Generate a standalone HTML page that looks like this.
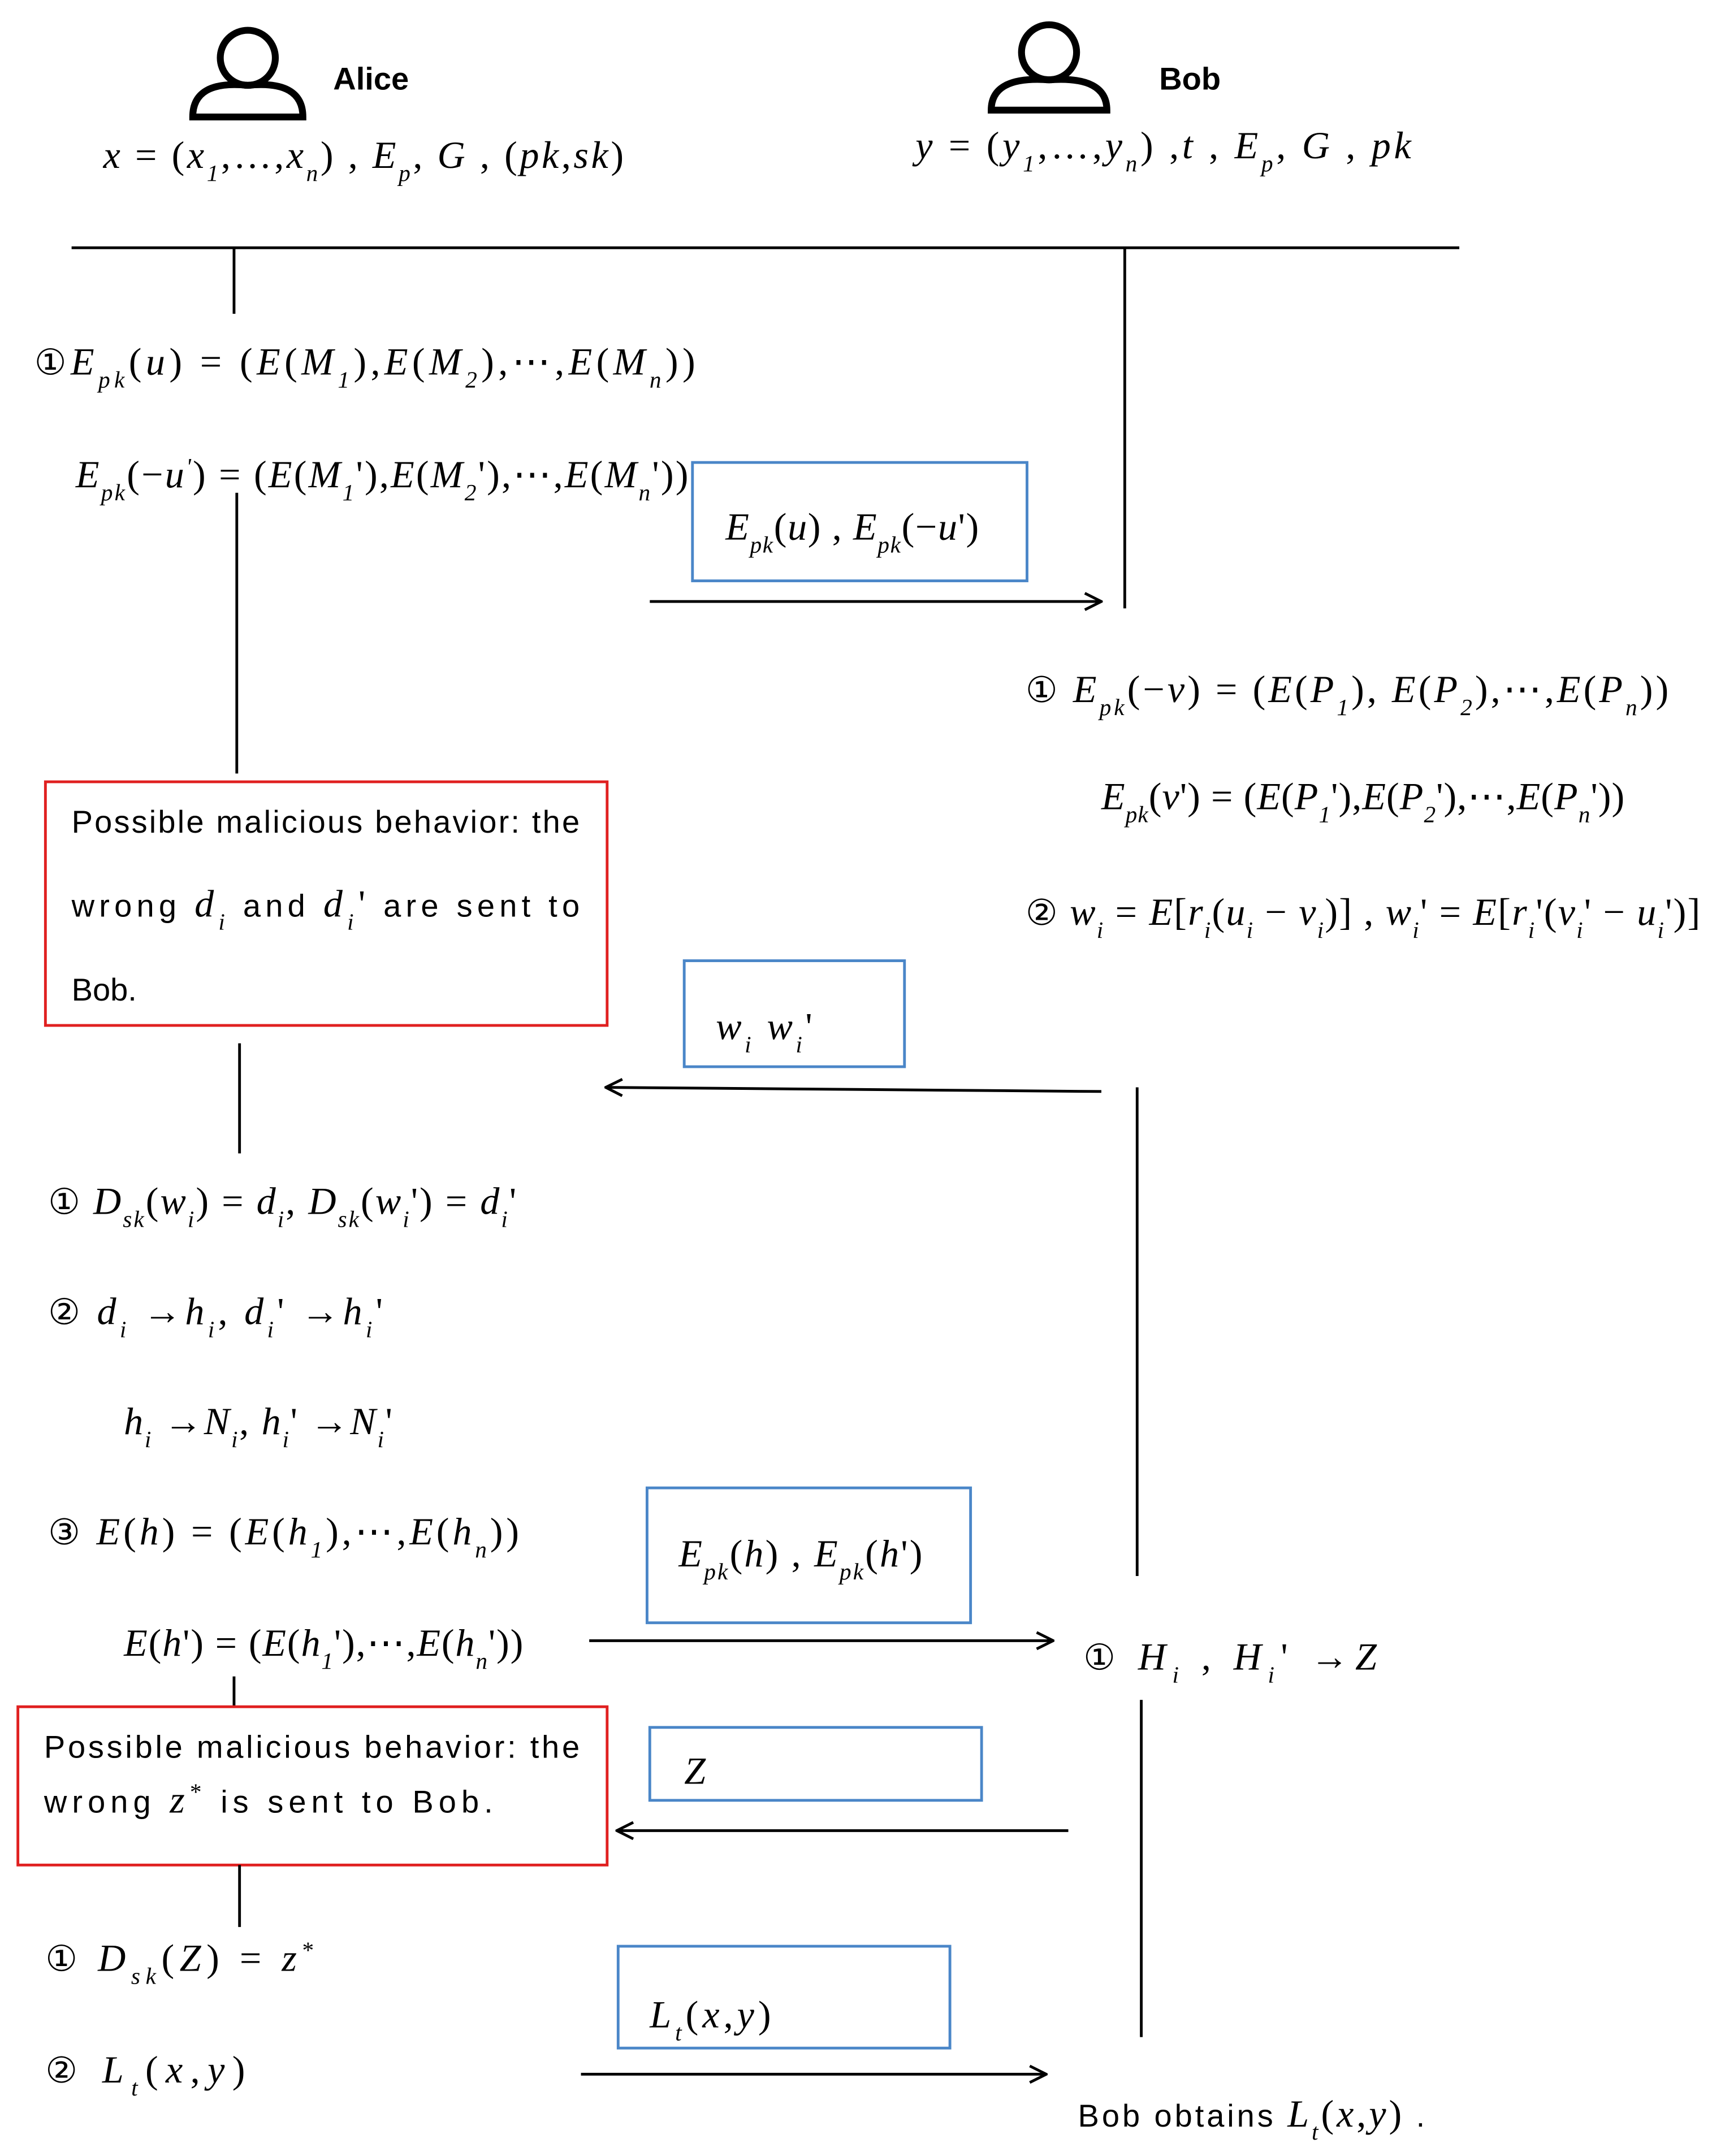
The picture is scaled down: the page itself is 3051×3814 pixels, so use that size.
<!DOCTYPE html>
<html><head><meta charset="utf-8"><style>
html,body{margin:0;padding:0;background:#fff}
svg{display:block}
.m{font-family:"Liberation Serif",serif;font-style:italic;font-size:28px;fill:#000}
.u{font-style:normal}
.s{font-size:17px;baseline-shift:sub}
.p{font-size:17px;baseline-shift:super}
.t{font-family:"Liberation Sans",sans-serif;font-size:23px;fill:#000}
.c{font-family:"DejaVu Sans",sans-serif;font-style:normal;font-size:26px}
.ln{stroke:#000;stroke-width:2;fill:none}
.bb{stroke:#4a86c8;stroke-width:2;fill:none}
.rb{stroke:#e02020;stroke-width:2;fill:none}
</style></head><body>
<svg width="3051" height="3814" viewBox="0 0 1253 1566.4" preserveAspectRatio="none" xmlns="http://www.w3.org/2000/svg">
<defs><marker id="a" markerWidth="14" markerHeight="14" refX="13" refY="7" orient="auto" markerUnits="userSpaceOnUse"><path d="M1,1 L13,7 L1,13" fill="none" stroke="#000" stroke-width="2"/></marker></defs>
<g fill="none" stroke="#000" stroke-width="5">
<circle cx="180" cy="42" r="20"/><path d="M140,85 Q140,58 180,62 Q220,58 220,85 Z"/>
<circle cx="762" cy="38" r="20"/><path d="M720,80 Q720,55 762,58 Q804,55 804,80 Z"/>
</g>
<text x="242" y="65" class="t" font-weight="bold">Alice</text>
<text x="842" y="65" class="t" font-weight="bold">Bob</text>
<text x="75" y="122" class="m" textLength="378" lengthAdjust="spacing">x <tspan class="u">= (</tspan>x<tspan class="s">1</tspan><tspan class="u">,…,</tspan>x<tspan class="s">n</tspan><tspan class="u">) ,</tspan> E<tspan class="s">p</tspan><tspan class="u">,</tspan> G <tspan class="u">, (</tspan>pk<tspan class="u">,</tspan>sk<tspan class="u">)</tspan></text>
<text x="665" y="115" class="m" textLength="360" lengthAdjust="spacing">y <tspan class="u">= (</tspan>y<tspan class="s">1</tspan><tspan class="u">,…,</tspan>y<tspan class="s">n</tspan><tspan class="u">) ,</tspan>t <tspan class="u">,</tspan> E<tspan class="s">p</tspan><tspan class="u">,</tspan> G <tspan class="u">,</tspan> pk</text>
<line x1="52" y1="180" x2="1060" y2="180" class="ln"/>
<line x1="170" y1="180" x2="170" y2="228" class="ln"/>
<line x1="817" y1="180" x2="817" y2="442" class="ln"/>
<text x="25" y="272" class="m" textLength="480" lengthAdjust="spacing"><tspan class="c">①</tspan>E<tspan class="s">pk</tspan><tspan class="u">(</tspan>u<tspan class="u">) = (</tspan>E<tspan class="u">(</tspan>M<tspan class="s">1</tspan><tspan class="u">),</tspan>E<tspan class="u">(</tspan>M<tspan class="s">2</tspan><tspan class="u">),⋯,</tspan>E<tspan class="u">(</tspan>M<tspan class="s">n</tspan><tspan class="u">))</tspan></text>
<text x="55" y="354" class="m" textLength="445" lengthAdjust="spacing">E<tspan class="s">pk</tspan><tspan class="u">(−</tspan>u<tspan class="p">'</tspan><tspan class="u">) = (</tspan>E<tspan class="u">(</tspan>M<tspan class="s">1</tspan><tspan class="u">'),</tspan>E<tspan class="u">(</tspan>M<tspan class="s">2</tspan><tspan class="u">'),⋯,</tspan>E<tspan class="u">(</tspan>M<tspan class="s">n</tspan><tspan class="u">'))</tspan></text>
<line x1="172" y1="358" x2="172" y2="562" class="ln"/>
<rect x="503" y="336" width="243" height="86" class="bb"/>
<text x="527" y="392" class="m" textLength="184" lengthAdjust="spacing">E<tspan class="s">pk</tspan><tspan class="u">(</tspan>u<tspan class="u">) ,</tspan> E<tspan class="s">pk</tspan><tspan class="u">(−</tspan>u<tspan class="u">')</tspan></text>
<line x1="472" y1="437" x2="800" y2="437" class="ln" marker-end="url(#a)"/>
<text x="745" y="510" class="m" textLength="467" lengthAdjust="spacing"><tspan class="c">①</tspan> E<tspan class="s">pk</tspan><tspan class="u">(−</tspan>v<tspan class="u">) = (</tspan>E<tspan class="u">(</tspan>P<tspan class="s">1</tspan><tspan class="u">), </tspan>E<tspan class="u">(</tspan>P<tspan class="s">2</tspan><tspan class="u">),⋯,</tspan>E<tspan class="u">(</tspan>P<tspan class="s">n</tspan><tspan class="u">))</tspan></text>
<text x="800" y="588" class="m" textLength="380" lengthAdjust="spacing">E<tspan class="s">pk</tspan><tspan class="u">(</tspan>v<tspan class="u">') = (</tspan>E<tspan class="u">(</tspan>P<tspan class="s">1</tspan><tspan class="u">'),</tspan>E<tspan class="u">(</tspan>P<tspan class="s">2</tspan><tspan class="u">'),⋯,</tspan>E<tspan class="u">(</tspan>P<tspan class="s">n</tspan><tspan class="u">'))</tspan></text>
<text x="745" y="672" class="m" font-size="26" textLength="490" lengthAdjust="spacing"><tspan class="c">②</tspan> w<tspan class="s">i</tspan><tspan class="u"> = </tspan>E<tspan class="u">[</tspan>r<tspan class="s">i</tspan><tspan class="u">(</tspan>u<tspan class="s">i</tspan><tspan class="u"> − </tspan>v<tspan class="s">i</tspan><tspan class="u">)] ,</tspan> w<tspan class="s">i</tspan><tspan class="u">' = </tspan>E<tspan class="u">[</tspan>r<tspan class="s">i</tspan><tspan class="u">'(</tspan>v<tspan class="s">i</tspan><tspan class="u">' − </tspan>u<tspan class="s">i</tspan><tspan class="u">')]</tspan></text>
<rect x="33" y="568" width="408" height="177" class="rb"/>
<text x="52" y="605" class="t" textLength="369" lengthAdjust="spacing">Possible malicious behavior: the</text>
<text x="52" y="666" class="t" textLength="369" lengthAdjust="spacing">wrong  <tspan class="m">d<tspan class="s">i</tspan></tspan>   and  <tspan class="m">d<tspan class="s">i</tspan><tspan class="u">'</tspan></tspan>  are sent to</text>
<text x="52" y="727" class="t">Bob.</text>
<rect x="497" y="698" width="160" height="77" class="bb"/>
<text x="520" y="755" class="m" textLength="70" lengthAdjust="spacing">w<tspan class="s">i</tspan> w<tspan class="s">i</tspan><tspan class="u">'</tspan></text>
<line x1="800" y1="793" x2="440" y2="790" class="ln" marker-end="url(#a)"/>
<line x1="826" y1="790" x2="826" y2="1145" class="ln"/>
<line x1="174" y1="758" x2="174" y2="838" class="ln"/>
<text x="35" y="882" class="m" textLength="340" lengthAdjust="spacing"><tspan class="c">①</tspan> D<tspan class="s">sk</tspan><tspan class="u">(</tspan>w<tspan class="s">i</tspan><tspan class="u">) = </tspan>d<tspan class="s">i</tspan><tspan class="u">, </tspan>D<tspan class="s">sk</tspan><tspan class="u">(</tspan>w<tspan class="s">i</tspan><tspan class="u">') = </tspan>d<tspan class="s">i</tspan><tspan class="u">'</tspan></text>
<text x="35" y="962" class="m" textLength="243" lengthAdjust="spacing"><tspan class="c">②</tspan> d<tspan class="s">i</tspan><tspan class="u"> →</tspan>h<tspan class="s">i</tspan><tspan class="u">, </tspan>d<tspan class="s">i</tspan><tspan class="u">' →</tspan>h<tspan class="s">i</tspan><tspan class="u">'</tspan></text>
<text x="90" y="1042" class="m" textLength="195" lengthAdjust="spacing">h<tspan class="s">i</tspan><tspan class="u"> →</tspan>N<tspan class="s">i</tspan><tspan class="u">, </tspan>h<tspan class="s">i</tspan><tspan class="u">' →</tspan>N<tspan class="s">i</tspan><tspan class="u">'</tspan></text>
<text x="35" y="1122" class="m" textLength="342" lengthAdjust="spacing"><tspan class="c">③</tspan> E<tspan class="u">(</tspan>h<tspan class="u">) = (</tspan>E<tspan class="u">(</tspan>h<tspan class="s">1</tspan><tspan class="u">),⋯,</tspan>E<tspan class="u">(</tspan>h<tspan class="s">n</tspan><tspan class="u">))</tspan></text>
<text x="90" y="1203" class="m" textLength="290" lengthAdjust="spacing">E<tspan class="u">(</tspan>h<tspan class="u">') = (</tspan>E<tspan class="u">(</tspan>h<tspan class="s">1</tspan><tspan class="u">'),⋯,</tspan>E<tspan class="u">(</tspan>h<tspan class="s">n</tspan><tspan class="u">'))</tspan></text>
<rect x="470" y="1081" width="235" height="98" class="bb"/>
<text x="493" y="1138" class="m" textLength="177" lengthAdjust="spacing">E<tspan class="s">pk</tspan><tspan class="u">(</tspan>h<tspan class="u">) ,</tspan> E<tspan class="s">pk</tspan><tspan class="u">(</tspan>h<tspan class="u">')</tspan></text>
<line x1="428" y1="1192" x2="765" y2="1192" class="ln" marker-end="url(#a)"/>
<text x="787" y="1213" class="m" textLength="213" lengthAdjust="spacing"><tspan class="c">①</tspan> H<tspan class="s">i</tspan><tspan class="u"> , </tspan>H<tspan class="s">i</tspan><tspan class="u">' →</tspan>Z</text>
<line x1="170" y1="1218" x2="170" y2="1240" class="ln"/>
<rect x="13" y="1240" width="428" height="115" class="rb"/>
<text x="32" y="1277" class="t" textLength="389" lengthAdjust="spacing">Possible malicious behavior: the</text>
<text x="32" y="1317" class="t" textLength="326" lengthAdjust="spacing">wrong  <tspan class="m">z<tspan class="p u">*</tspan></tspan>  is sent   to   Bob.</text>
<rect x="472" y="1255" width="241" height="53" class="bb"/>
<text x="497" y="1296" class="m">Z</text>
<line x1="776" y1="1330" x2="448" y2="1330" class="ln" marker-end="url(#a)"/>
<line x1="829" y1="1235" x2="829" y2="1480" class="ln"/>
<line x1="174" y1="1355" x2="174" y2="1400" class="ln"/>
<text x="33" y="1432" class="m" textLength="195" lengthAdjust="spacing"><tspan class="c">①</tspan> D<tspan class="s">sk</tspan><tspan class="u">(</tspan>Z<tspan class="u">) = </tspan>z<tspan class="p u">*</tspan></text>
<text x="33" y="1513" class="m" textLength="145" lengthAdjust="spacing"><tspan class="c">②</tspan> L<tspan class="s">t</tspan><tspan class="u">(</tspan>x<tspan class="u">,</tspan>y<tspan class="u">)</tspan></text>
<rect x="449" y="1414" width="241" height="74" class="bb"/>
<text x="472" y="1473" class="m" textLength="88" lengthAdjust="spacing">L<tspan class="s">t</tspan><tspan class="u">(</tspan>x<tspan class="u">,</tspan>y<tspan class="u">)</tspan></text>
<line x1="422" y1="1507" x2="760" y2="1507" class="ln" marker-end="url(#a)"/>
<text x="783" y="1545" class="t" textLength="252" lengthAdjust="spacing">Bob obtains  <tspan class="m">L<tspan class="s">t</tspan><tspan class="u">(</tspan>x<tspan class="u">,</tspan>y<tspan class="u">)</tspan></tspan> .</text>
</svg>
</body></html>
